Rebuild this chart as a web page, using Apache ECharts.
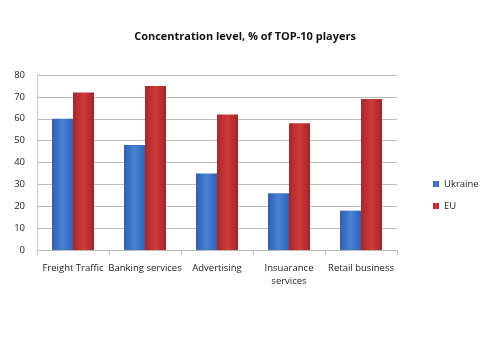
<!DOCTYPE html>
<html><head><meta charset="utf-8">
<script src="https://cdn.jsdelivr.net/npm/echarts@6/dist/echarts.min.js"></script>
<style>html,body{margin:0;padding:0;background:#fff}#c{width:480px;height:360px}</style>
</head><body><div id="c"></div>
<script>
const categories = ['Freight Traffic','Banking services','Advertising','Insuarance\nservices','Retail business'];
const ukraine = [60, 48, 35, 26, 18];
const eu = [72, 75, 62, 58, 69];
const yTicks = [0,10,20,30,40,50,60,70,80];

const chart = echarts.init(document.getElementById('c'));
function grad(c1,c2,c3){return new echarts.graphic.LinearGradient(0,0,1,0,[{offset:0,color:c1},{offset:0.5,color:c2},{offset:1,color:c3}]);}
chart.setOption({
  animation:false,
  title:{text:'Concentration level, % of TOP-10 players',left:240,top:26,textAlign:'center',
    textStyle:{fontFamily:'Open Sans',fontSize:11,fontWeight:'bold',color:'#111'}},
  legend:{orient:'vertical',left:433,top:179,padding:0,itemWidth:6,itemHeight:6,itemGap:12,icon:'rect',
    textStyle:{fontFamily:'Open Sans',fontSize:9.5,color:'#222'},data:['Ukraine','EU']},
  grid:{left:37,right:83,top:75,bottom:110,containLabel:false},
  xAxis:{type:'category',data:categories,
    axisLine:{lineStyle:{color:'#bbb'}},axisTick:{show:true,alignWithLabel:false,lineStyle:{color:'#bbb'}},
    axisLabel:{interval:0,fontFamily:'Open Sans',fontSize:9.5,color:'#222',margin:12,lineHeight:13}},
  yAxis:{type:'value',min:0,max:80,interval:10,
    axisLine:{show:true,lineStyle:{color:'#ccc'}},axisTick:{show:false},
    splitLine:{lineStyle:{color:'#bdbdbd'}},
    axisLabel:{fontFamily:'Open Sans',fontSize:9.5,color:'#222',margin:12,
      formatter:v=>yTicks.includes(v)?String(v):''}},
  series:[
    {name:'Ukraine',type:'bar',data:ukraine,barWidth:21,barGap:'0%',
      itemStyle:{color:grad('#2f5fae','#4a82d4','#2f62b5')}},
    {name:'EU',type:'bar',data:eu,barWidth:21,
      itemStyle:{color:grad('#a8272a','#cf3b36','#a32628')}}
  ]
});
</script></body></html>
